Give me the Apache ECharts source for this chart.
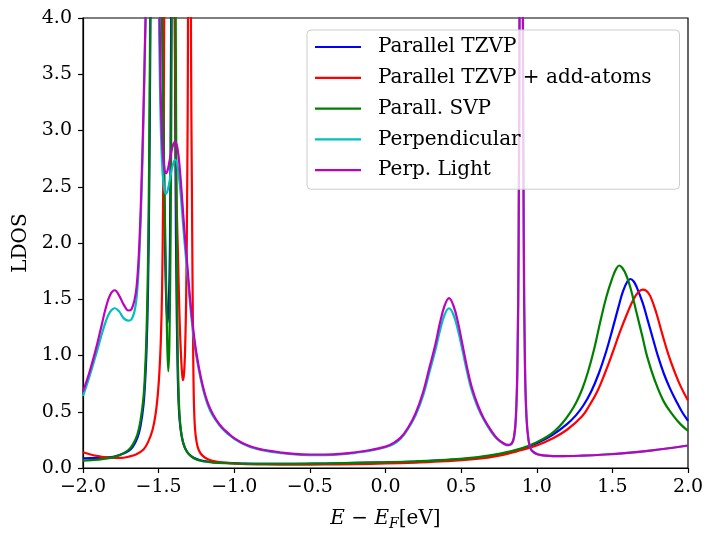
<!DOCTYPE html>
<html>
<head>
<meta charset="utf-8">
<script src="https://cdn.jsdelivr.net/npm/echarts@6/dist/echarts.min.js"></script>
<style>html,body{margin:0;padding:0;background:#fff;}#c{width:708px;height:534px;}</style>
</head>
<body>
<div id="c"></div>
<script>
// Series names (legend order)
const seriesNames = ['Parallel TZVP', 'Parallel TZVP + add-atoms', 'Parall. SVP', 'Perpendicular', 'Perp. Light'];
// Tick values
const xTicks = [-2.0, -1.5, -1.0, -0.5, 0.0, 0.5, 1.0, 1.5, 2.0];
const yTicks = [0.0, 0.5, 1.0, 1.5, 2.0, 2.5, 3.0, 3.5, 4.0];

// [E - E_F (eV), LDOS]
const parallelTZVP = [
[-2.00,0.085],[-1.90,0.09],[-1.80,0.10],[-1.75,0.12],[-1.70,0.15],[-1.67,0.19],[-1.64,0.27],[-1.62,0.37],[-1.60,0.56],[-1.59,0.75],[-1.58,1.05],[-1.57,1.6],[-1.562,2.5],[-1.556,3.6],[-1.552,4.5],[-1.52,10],[-1.49,6.5],[-1.475,4.0],[-1.465,2.8],[-1.458,2.0],[-1.45,1.5],[-1.441,1.29],[-1.432,1.5],[-1.425,2.0],[-1.42,3.2],[-1.416,4.5],[-1.405,12],[-1.394,4.5],[-1.388,2.6],[-1.382,1.6],[-1.376,1.0],[-1.37,0.66],[-1.362,0.44],[-1.35,0.30],[-1.335,0.21],[-1.31,0.14],[-1.28,0.10],[-1.24,0.075],[-1.20,0.062],[-1.14,0.052],[-1.06,0.045],[-0.95,0.04],[-0.80,0.037],[-0.60,0.037],[-0.40,0.04],[-0.20,0.045],[0.00,0.05],[0.20,0.058],[0.40,0.07],[0.60,0.09],[0.75,0.12],[0.90,0.17],[1.00,0.22],[1.10,0.29],[1.20,0.39],[1.26,0.47],[1.31,0.56],[1.36,0.68],[1.41,0.84],[1.46,1.04],[1.50,1.23],[1.54,1.43],[1.57,1.57],[1.60,1.66],[1.62,1.68],[1.64,1.66],[1.66,1.61],[1.70,1.47],[1.73,1.33],[1.77,1.14],[1.80,1.00],[1.84,0.84],[1.88,0.71],[1.92,0.60],[1.96,0.50],[2.00,0.42]
];
const parallelTZVPAdd = [
[-2.00,0.14],[-1.95,0.12],[-1.90,0.105],[-1.85,0.095],[-1.80,0.09],[-1.75,0.09],[-1.70,0.10],[-1.65,0.12],[-1.60,0.165],[-1.57,0.23],[-1.54,0.34],[-1.52,0.48],[-1.505,0.66],[-1.495,0.85],[-1.485,1.15],[-1.477,1.6],[-1.471,2.3],[-1.466,3.2],[-1.462,4.3],[-1.43,10],[-1.40,5.5],[-1.388,3.0],[-1.38,2.3],[-1.372,1.9],[-1.362,1.35],[-1.352,1.0],[-1.345,0.84],[-1.339,0.78],[-1.332,0.84],[-1.325,1.05],[-1.318,1.5],[-1.311,2.5],[-1.306,3.8],[-1.296,12],[-1.286,3.8],[-1.280,2.5],[-1.276,1.7],[-1.272,1.1],[-1.267,0.6],[-1.26,0.36],[-1.25,0.24],[-1.235,0.16],[-1.21,0.11],[-1.17,0.075],[-1.12,0.057],[-1.05,0.045],[-0.95,0.037],[-0.80,0.032],[-0.60,0.03],[-0.40,0.031],[-0.20,0.035],[0.00,0.04],[0.20,0.048],[0.40,0.06],[0.60,0.08],[0.75,0.11],[0.90,0.16],[1.00,0.20],[1.10,0.26],[1.20,0.34],[1.30,0.46],[1.35,0.56],[1.40,0.68],[1.45,0.84],[1.50,1.02],[1.55,1.21],[1.60,1.38],[1.64,1.50],[1.67,1.56],[1.70,1.585],[1.725,1.575],[1.75,1.53],[1.79,1.38],[1.83,1.19],[1.87,1.01],[1.91,0.86],[1.95,0.73],[2.00,0.60]
];
const parallSVP = [
[-2.00,0.065],[-1.90,0.075],[-1.80,0.095],[-1.75,0.12],[-1.70,0.16],[-1.67,0.21],[-1.64,0.30],[-1.62,0.42],[-1.60,0.63],[-1.59,0.85],[-1.58,1.2],[-1.57,1.85],[-1.563,2.7],[-1.557,3.8],[-1.553,4.5],[-1.52,10],[-1.495,6],[-1.48,4.3],[-1.468,3.0],[-1.458,2.2],[-1.45,1.6],[-1.443,1.1],[-1.436,0.86],[-1.429,1.1],[-1.422,1.9],[-1.416,3.2],[-1.412,4.5],[-1.40,12],[-1.388,4.5],[-1.384,3.0],[-1.380,1.94],[-1.375,1.15],[-1.369,0.72],[-1.362,0.48],[-1.352,0.33],[-1.34,0.24],[-1.32,0.16],[-1.29,0.11],[-1.25,0.075],[-1.20,0.058],[-1.14,0.048],[-1.06,0.042],[-0.95,0.038],[-0.80,0.036],[-0.60,0.037],[-0.40,0.04],[-0.20,0.046],[0.00,0.052],[0.20,0.06],[0.40,0.073],[0.60,0.095],[0.75,0.125],[0.90,0.175],[1.00,0.23],[1.07,0.28],[1.12,0.33],[1.17,0.40],[1.22,0.49],[1.26,0.58],[1.30,0.70],[1.34,0.86],[1.38,1.06],[1.42,1.30],[1.46,1.52],[1.50,1.69],[1.525,1.77],[1.545,1.80],[1.565,1.78],[1.59,1.72],[1.62,1.60],[1.66,1.38],[1.70,1.16],[1.73,0.99],[1.78,0.78],[1.84,0.59],[1.90,0.47],[1.95,0.39],[2.00,0.33]
];
const perpendicular = [
[-2.00,0.64],[-1.96,0.80],[-1.92,0.98],[-1.88,1.17],[-1.85,1.30],[-1.82,1.39],[-1.79,1.42],[-1.76,1.39],[-1.73,1.33],[-1.70,1.31],[-1.68,1.32],[-1.66,1.39],[-1.645,1.52],[-1.63,1.82],[-1.615,2.35],[-1.60,3.1],[-1.59,3.75],[-1.58,4.4],[-1.55,7],[-1.53,9],[-1.515,6.5],[-1.50,4.3],[-1.49,3.3],[-1.478,2.72],[-1.465,2.50],[-1.452,2.44],[-1.44,2.47],[-1.425,2.57],[-1.405,2.70],[-1.39,2.74],[-1.375,2.68],[-1.36,2.52],[-1.345,2.28],[-1.33,2.03],[-1.31,1.73],[-1.29,1.43],[-1.27,1.18],[-1.25,0.99],[-1.22,0.78],[-1.19,0.62],[-1.16,0.51],[-1.12,0.42],[-1.08,0.35],[-1.04,0.30],[-1.00,0.26],[-0.95,0.22],[-0.90,0.19],[-0.85,0.17],[-0.80,0.155],[-0.70,0.135],[-0.60,0.12],[-0.50,0.115],[-0.40,0.115],[-0.30,0.12],[-0.20,0.135],[-0.10,0.155],[0.00,0.185],[0.05,0.21],[0.10,0.26],[0.15,0.35],[0.20,0.47],[0.25,0.65],[0.29,0.85],[0.33,1.05],[0.36,1.22],[0.39,1.36],[0.42,1.42],[0.45,1.36],[0.48,1.22],[0.51,1.04],[0.54,0.85],[0.57,0.69],[0.61,0.54],[0.65,0.43],[0.70,0.32],[0.74,0.255],[0.78,0.215],[0.81,0.20],[0.835,0.215],[0.85,0.27],[0.862,0.44],[0.872,0.88],[0.880,1.95],[0.887,4.4],[0.898,12],[0.908,4.4],[0.915,1.95],[0.923,0.88],[0.933,0.44],[0.946,0.25],[0.96,0.17],[0.98,0.14],[1.01,0.12],[1.06,0.11],[1.15,0.105],[1.30,0.11],[1.45,0.12],[1.60,0.135],[1.75,0.155],[1.90,0.18],[2.00,0.20]
];
const perpLight = [
[-2.00,0.68],[-1.96,0.84],[-1.92,1.03],[-1.88,1.25],[-1.85,1.42],[-1.82,1.54],[-1.79,1.58],[-1.76,1.53],[-1.73,1.45],[-1.70,1.40],[-1.68,1.41],[-1.66,1.49],[-1.645,1.62],[-1.63,1.92],[-1.615,2.45],[-1.60,3.2],[-1.59,3.8],[-1.58,4.4],[-1.55,7],[-1.53,9],[-1.51,7],[-1.495,4.4],[-1.487,3.4],[-1.475,2.85],[-1.462,2.66],[-1.452,2.62],[-1.44,2.65],[-1.425,2.75],[-1.405,2.87],[-1.39,2.90],[-1.375,2.84],[-1.36,2.66],[-1.345,2.40],[-1.33,2.12],[-1.31,1.80],[-1.29,1.48],[-1.27,1.22],[-1.25,1.02],[-1.22,0.80],[-1.19,0.64],[-1.16,0.53],[-1.12,0.43],[-1.08,0.36],[-1.04,0.31],[-1.00,0.265],[-0.95,0.225],[-0.90,0.195],[-0.85,0.175],[-0.80,0.16],[-0.70,0.14],[-0.60,0.125],[-0.50,0.12],[-0.40,0.12],[-0.30,0.125],[-0.20,0.14],[-0.10,0.16],[0.00,0.19],[0.05,0.22],[0.10,0.27],[0.15,0.36],[0.20,0.49],[0.25,0.68],[0.29,0.89],[0.33,1.10],[0.36,1.29],[0.39,1.44],[0.42,1.51],[0.45,1.44],[0.48,1.29],[0.51,1.09],[0.54,0.89],[0.57,0.72],[0.61,0.56],[0.65,0.44],[0.70,0.33],[0.74,0.26],[0.78,0.22],[0.81,0.205],[0.835,0.22],[0.85,0.28],[0.862,0.45],[0.872,0.9],[0.880,2.0],[0.887,4.5],[0.897,12],[0.907,4.5],[0.914,2.0],[0.922,0.9],[0.932,0.45],[0.945,0.25],[0.96,0.17],[0.98,0.14],[1.01,0.12],[1.06,0.11],[1.15,0.105],[1.30,0.11],[1.45,0.12],[1.60,0.135],[1.75,0.155],[1.90,0.18],[2.00,0.20]
];

const seriesData = [parallelTZVP, parallelTZVPAdd, parallSVP, perpendicular, perpLight];
const colors = ['#0000ff', '#ff0000', '#008000', '#00bfbf', '#bf00bf'];

const FONT = 'DejaVu Serif';
const fmt = v => (v < 0 ? '\u2212' : '') + Math.abs(v).toFixed(1);

const chart = echarts.init(document.getElementById('c'), null, {renderer: 'canvas'});
chart.setOption({
  animation: false,
  backgroundColor: '#ffffff',
  color: colors,
  grid: {left: 83, right: 20, top: 18, bottom: 66, outerBoundsMode: 'none', containLabel: false,
         show: true, borderColor: '#000', borderWidth: 1.2, backgroundColor: 'transparent'},
  legend: {
    orient: 'vertical', left: 307, top: 30,
    data: seriesNames,
    icon: 'rect', itemWidth: 46, itemHeight: 2.2, itemGap: 8.8,
    padding: [6, 28, 8, 8],
    selectedMode: false,
    backgroundColor: 'rgba(255,255,255,0.8)', borderColor: '#cccccc', borderWidth: 1, borderRadius: 4,
    textStyle: {fontFamily: FONT, fontSize: 20, color: '#000', lineHeight: 22, padding: [0, 0, 0, 12]}
  },
  xAxis: {
    type: 'value', min: xTicks[0], max: xTicks[xTicks.length - 1], interval: 0.5,
    axisLine: {show: true, onZero: false, lineStyle: {color: '#000', width: 1.2}},
    axisTick: {show: true, inside: false, length: 5, lineStyle: {color: '#000', width: 1.2}},
    splitLine: {show: false},
    axisLabel: {fontFamily: FONT, fontSize: 19, color: '#000', margin: 10, formatter: fmt},
    name: '{i|E} \u2212 {i|E}{s|F}[eV]', nameLocation: 'middle', nameGap: 39,
    nameTextStyle: {fontFamily: FONT, fontSize: 20, color: '#000',
      rich: {i: {fontFamily: FONT, fontStyle: 'italic', fontSize: 20},
             s: {fontFamily: FONT, fontStyle: 'italic', fontSize: 14, padding: [10, 0, 0, 0]}}}
  },
  yAxis: {
    type: 'value', min: yTicks[0], max: yTicks[yTicks.length - 1], interval: 0.5,
    axisLine: {show: true, onZero: false, lineStyle: {color: '#000', width: 1.2}},
    axisTick: {show: true, inside: false, length: 5, lineStyle: {color: '#000', width: 1.2}},
    splitLine: {show: false},
    axisLabel: {fontFamily: FONT, fontSize: 19, color: '#000', margin: 11, formatter: fmt},
    name: 'LDOS', nameLocation: 'middle', nameRotate: 90, nameGap: 51,
    nameTextStyle: {fontFamily: FONT, fontSize: 20, color: '#000'}
  },
  series: seriesNames.map((n, i) => ({
    name: n, type: 'line', data: seriesData[i], showSymbol: false, symbol: 'none',
    smooth: 0.4, clip: true,
    lineStyle: {width: 2.2, color: colors[i]}, itemStyle: {color: colors[i]}, z: 2 + i * 0.01
  }))
});
</script>
</body>
</html>
